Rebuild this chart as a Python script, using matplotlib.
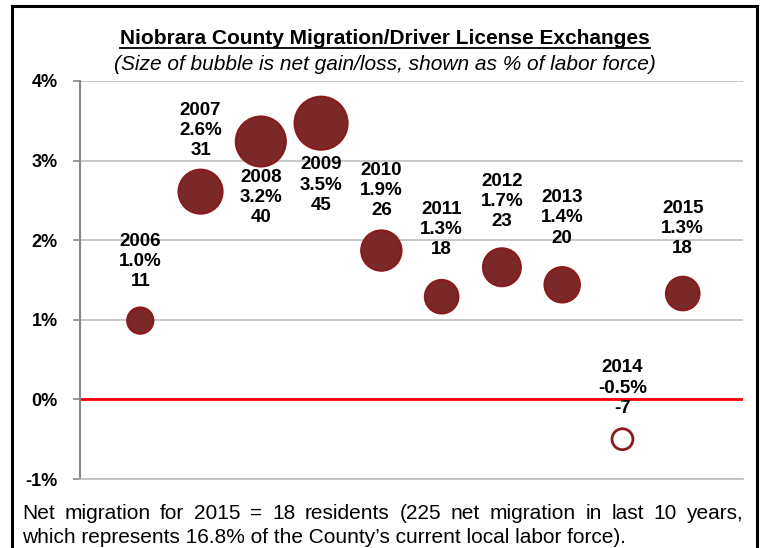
import matplotlib
matplotlib.use('Agg')
import matplotlib.pyplot as plt
from matplotlib.lines import Line2D
from matplotlib.patches import Rectangle
from matplotlib.ticker import FuncFormatter

years = [2006, 2007, 2008, 2009, 2010, 2011, 2012, 2013, 2014, 2015]
pct_labor = [0.99, 2.61, 3.24, 3.47, 1.87, 1.29, 1.66, 1.44, -0.50, 1.33]
net_migration = [11, 31, 40, 45, 26, 18, 23, 20, -7, 18]

# label centre offset from bubble centre, in pixels (+ above, - below)
label_dy = [59, 61, -56, -62, 60, 67, 66, 67, 51, 65]

plt.rcParams['font.family'] = ['Liberation Sans', 'DejaVu Sans']

fig = plt.figure(figsize=(7.64, 5.48), dpi=100)
ax = fig.add_axes([80 / 764, 1 - 479 / 548, 663 / 764, 398 / 548])

face = ['white' if v < 0 else '#7B2828' for v in net_migration]
sizes = [32.4 * abs(v) for v in net_migration]
lws = [2.0 if v < 0 else 1.5 for v in net_migration]
ax.scatter(years, pct_labor, s=sizes, c=face, edgecolors='#8B1A1A',
           linewidths=lws, zorder=3)

for yr, p, n, dy in zip(years, pct_labor, net_migration, label_dy):
    ax.annotate(f'{yr}\n{p:.1f}%\n{n}', (yr, p), xytext=(0, dy),
                textcoords='offset pixels', ha='center', va='center',
                fontsize=13.5, fontweight='bold', linespacing=1.25, zorder=4)

ax.set_xlim(2005, 2016)
ax.set_ylim(-1, 4)
ax.set_yticks([-1, 0, 1, 2, 3, 4])
ax.yaxis.set_major_formatter(FuncFormatter(lambda v, pos: f'{v:.0f}%'))
ax.set_xticks([])
ax.grid(axis='y', color='#BFBFBF', linewidth=1.2, zorder=0)
ax.axhline(0, color='#FF0000', linewidth=2, zorder=2)
for s in ['top', 'right']:
    ax.spines[s].set_visible(False)
ax.spines['left'].set_color('#888888')
ax.spines['left'].set_linewidth(1.5)
ax.spines['bottom'].set_color('#BFBFBF')
ax.spines['bottom'].set_linewidth(1.2)
ax.tick_params(axis='y', length=5, width=1.2, color='#888888', pad=11,
               labelsize=13)
for lab in ax.get_yticklabels():
    lab.set_fontweight('bold')

title = fig.text(385 / 764, 1 - 39 / 548, 'Niobrara County Migration/Driver License Exchanges',
                 ha='center', va='center', fontsize=15, fontweight='bold')
fig.text(385 / 764, 1 - 64 / 548, '(Size of bubble is net gain/loss, shown as % of labor force)',
         ha='center', va='center', fontsize=15, style='italic')

# outer frame
fig.patches.append(Rectangle((11.5 / 764, -0.05), 745 / 764, 1.05 - 6 / 548,
                             transform=fig.transFigure, fill=False,
                             edgecolor='black', linewidth=2.2))

fig.canvas.draw()
renderer = fig.canvas.get_renderer()

# underline for the title
bb = title.get_window_extent(renderer)
uy = bb.y0 + 1
fig.add_artist(Line2D([bb.x0 / 764, bb.x1 / 764], [uy / 548, uy / 548],
                      transform=fig.transFigure, color='black', linewidth=1.3))

# footer, first line justified
line1 = 'Net migration for 2015 = 18 residents (225 net migration in last 10 years,'
line2 = 'which represents 16.8% of the County\u2019s current local labor force).'
x_left, x_right = 22, 743
words = line1.split()
texts = [fig.text(0, 1 - 519 / 548, w, fontsize=15, va='baseline') for w in words]
widths = [t.get_window_extent(renderer).width for t in texts]
gap = (x_right - x_left - sum(widths)) / (len(words) - 1)
xpos = x_left
for t, w in zip(texts, widths):
    t.set_x(xpos / 764)
    xpos += w + gap
fig.text(x_left / 764, 1 - 543 / 548, line2, fontsize=15, va='baseline')

fig.savefig('out.png', dpi=100)
